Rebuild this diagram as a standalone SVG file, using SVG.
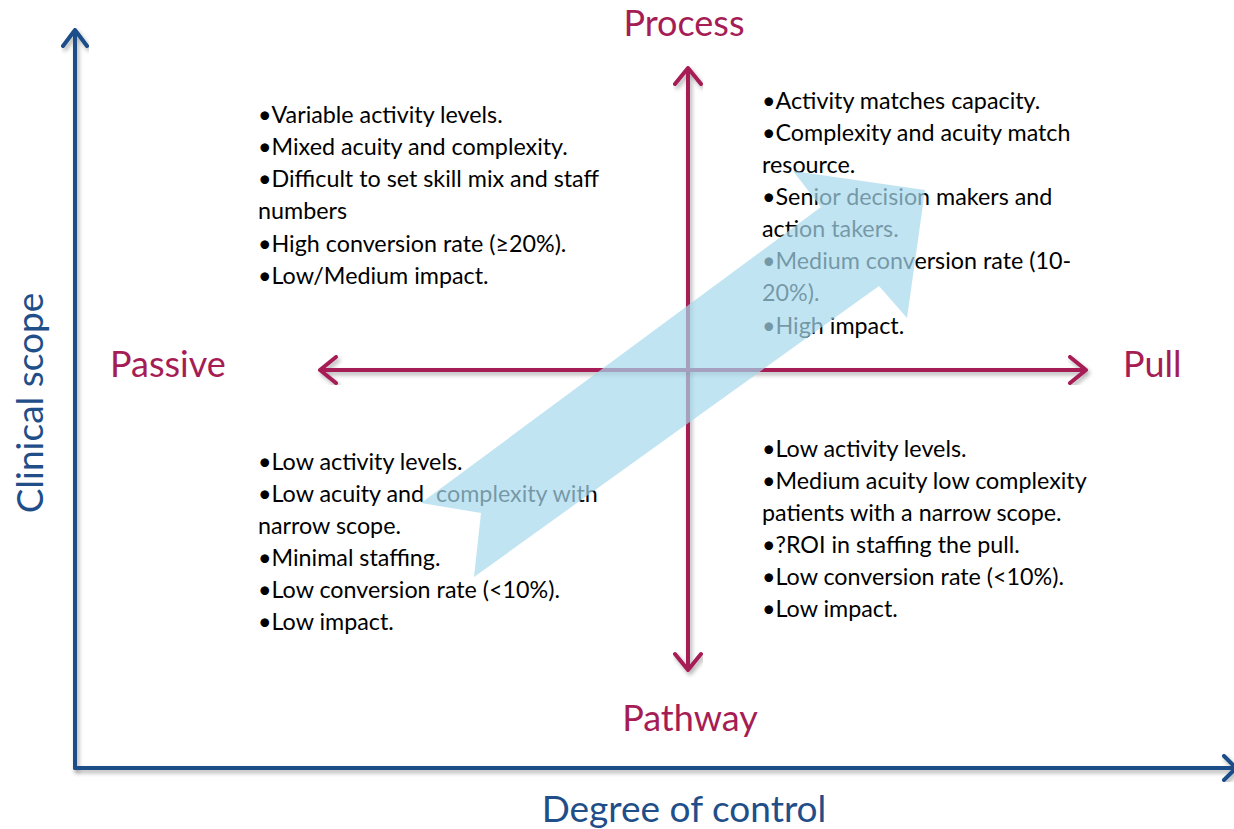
<svg xmlns="http://www.w3.org/2000/svg" width="1234" height="829" viewBox="0 0 1234 829">
<defs>
<filter id="sh" x="-5%" y="-5%" width="110%" height="110%">
<feDropShadow dx="2" dy="3" stdDeviation="2" flood-color="#000" flood-opacity="0.3"/>
</filter>
<style>
.ax{fill:none;stroke-width:4;stroke-linecap:round;stroke-linejoin:round}
.blue{stroke:#1f4e89}
.red{stroke:#a61d55}
.lbl{font-family:Lato,"Liberation Sans",sans-serif;font-size:36px;fill:#a61d55}
.albl{font-family:Lato,"Liberation Sans",sans-serif;font-size:37px;fill:#1f4e89}
.t{font-family:Lato,"Liberation Sans",sans-serif;font-size:23.3px;fill:#000}
</style>
</defs>
<rect width="1234" height="829" fill="#fff"/>
<g id="connectors">
<g id="axis-y" filter="url(#sh)"><path class="ax blue" d="M75,768 V30 M63,46 L75,30 L87,46"/></g>
<g id="axis-x" filter="url(#sh)"><path class="ax blue" d="M75,768 H1232 M1224,756 L1236,768 L1224,780"/></g>
<g id="process-pathway" filter="url(#sh)"><path class="ax red" d="M688,68 V670 M675,84 L688,68 L701,84 M675,654 L688,670 L701,654"/></g>
<g id="passive-pull" filter="url(#sh)"><path class="ax red" d="M320,370 H1086 M336,357 L320,370 L336,383 M1070,357 L1086,370 L1070,383"/></g>
</g>
<g id="label-process"><text class="lbl" x="684" y="36" text-anchor="middle">Process</text></g>
<g id="label-pathway"><text class="lbl" x="690" y="731" text-anchor="middle">Pathway</text></g>
<g id="label-passive"><text class="lbl" x="110" y="377">Passive</text></g>
<g id="label-pull"><text class="lbl" x="1123" y="377">Pull</text></g>
<g id="label-degree"><text class="albl" x="684" y="822" text-anchor="middle">Degree of control</text></g>
<g id="label-clinical"><text class="albl" transform="translate(43,403) rotate(-90)" text-anchor="middle">Clinical scope</text></g>
<g id="q-top-left">
<text class="t" x="258" y="123">•Variable activity levels.</text>
<text class="t" x="258" y="155">•Mixed acuity and complexity.</text>
<text class="t" x="258" y="187">•Difficult to set skill mix and staff</text>
<text class="t" x="258" y="219">numbers</text>
<text class="t" x="258" y="252">•High conversion rate (≥20%).</text>
<text class="t" x="258" y="284">•Low/Medium impact.</text>
</g>
<g id="q-top-right">
<text class="t" x="762" y="109">•Activity matches capacity.</text>
<text class="t" x="762" y="141">•Complexity and acuity match</text>
<text class="t" x="762" y="173">resource.</text>
<text class="t" x="762" y="205">•Senior decision makers and</text>
<text class="t" x="762" y="237">action takers.</text>
<text class="t" x="762" y="269">•Medium conversion rate (10-</text>
<text class="t" x="762" y="301">20%).</text>
<text class="t" x="762" y="334">•High impact.</text>
</g>
<g id="q-bottom-left">
<text class="t" x="258" y="470">•Low activity levels.</text>
<text class="t" x="258" y="502" style="white-space:pre">•Low acuity and  complexity with</text>
<text class="t" x="258" y="534">narrow scope.</text>
<text class="t" x="258" y="566">•Minimal staffing.</text>
<text class="t" x="258" y="598">•Low conversion rate (&lt;10%).</text>
<text class="t" x="258" y="630">•Low impact.</text>
</g>
<g id="q-bottom-right">
<text class="t" x="762" y="457">•Low activity levels.</text>
<text class="t" x="762" y="489">•Medium acuity low complexity</text>
<text class="t" x="762" y="521">patients with a narrow scope.</text>
<text class="t" x="762" y="553">•?ROI in staffing the pull.</text>
<text class="t" x="762" y="585">•Low conversion rate (&lt;10%).</text>
<text class="t" x="762" y="617">•Low impact.</text>
</g>
<g id="big-arrow">
<polygon points="421,503 481,513 474,577 879,286 907,318 925,190 793,171 821,207" fill="#a6d9ed" fill-opacity="0.7"/>
</g>
</svg>
